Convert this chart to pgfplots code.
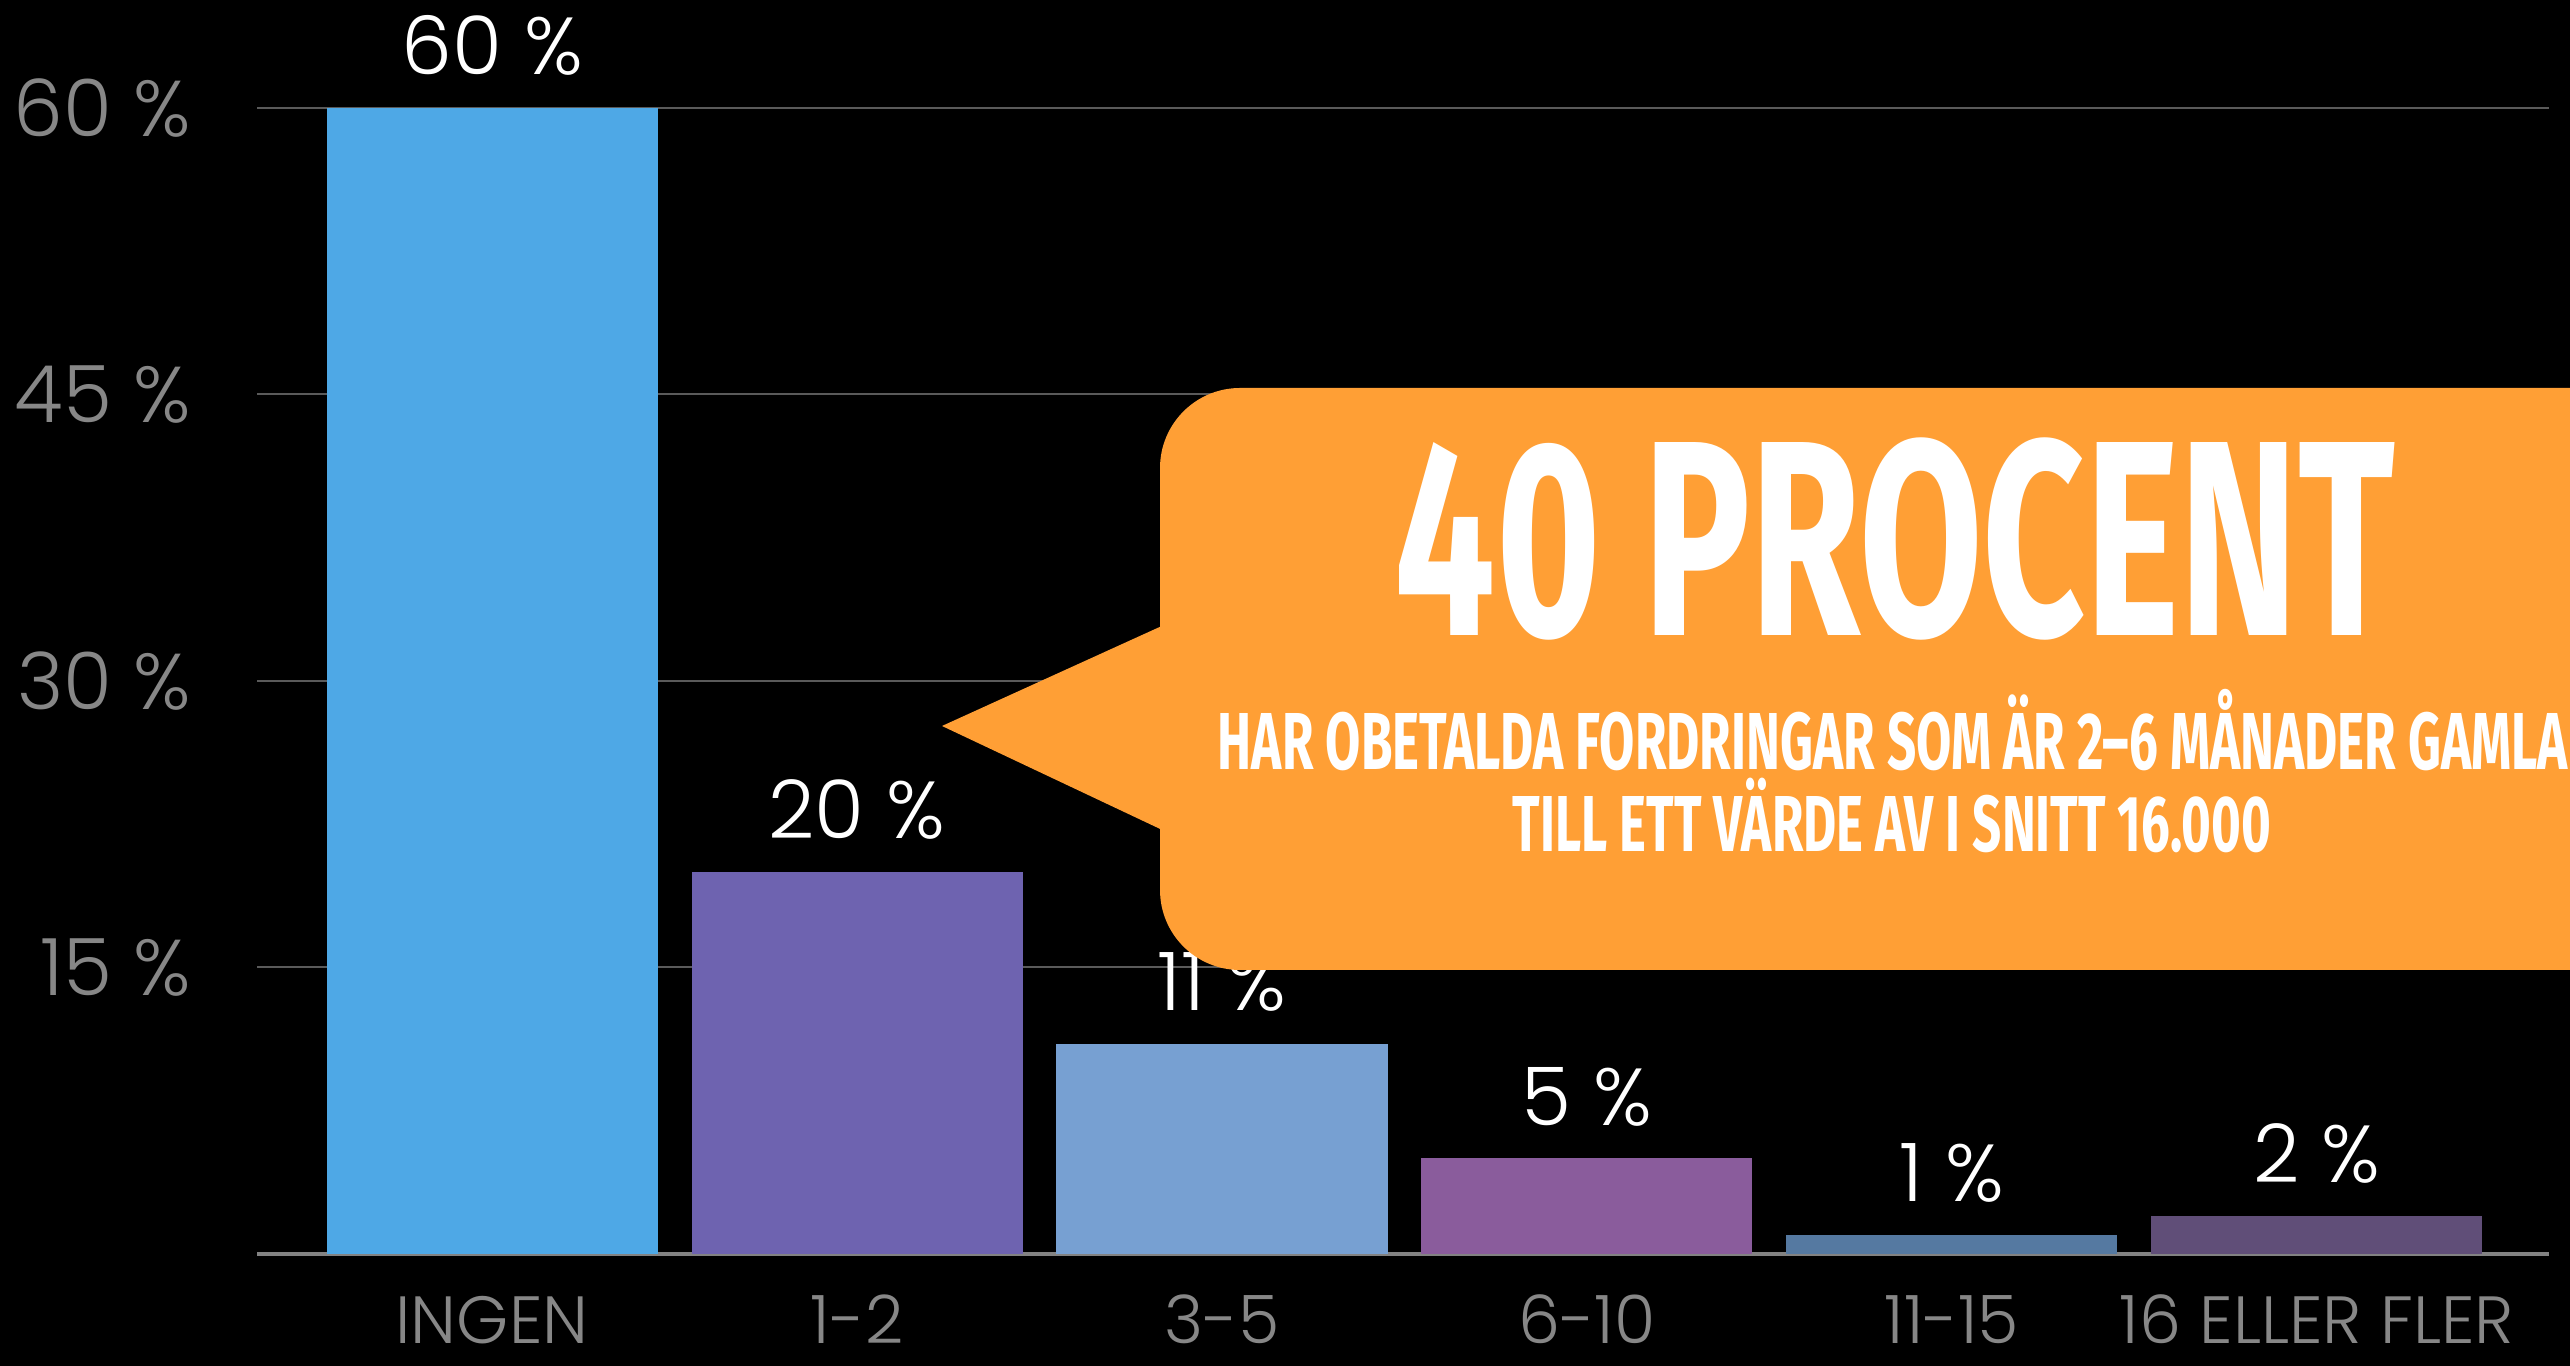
\documentclass[border=0pt]{standalone}
\usepackage{fontspec}
\setmainfont{Poppins}[UprightFont=* Light]
\newfontfamily\calloutfont{Fira Sans}
\usepackage{pgfplots}
\pgfplotsset{compat=1.18}
\definecolor{cIngen}{RGB}{78,168,230}
\definecolor{cA}{RGB}{110,99,176}
\definecolor{cB}{RGB}{119,160,210}
\definecolor{cC}{RGB}{138,92,156}
\definecolor{cD}{RGB}{85,121,161}
\definecolor{cE}{RGB}{96,78,120}
\definecolor{gridgray}{RGB}{90,90,90}
\definecolor{basegray}{RGB}{130,130,130}
\definecolor{labelgray}{RGB}{135,135,135}
\definecolor{calloutorange}{RGB}{255,159,53}
\begin{document}
\begin{tikzpicture}
\path[use as bounding box, clip] (0,0) rectangle (25.7,13.66);
\fill[black] (0,0) rectangle (25.7,13.66);
\begin{axis}[
  at={(2.57cm,1.12cm)}, anchor=south west,
  scale only axis, width=22.92cm, height=11.46cm,
  xmin=-0.644, xmax=5.636, ymin=0, ymax=60,
  ybar, bar width=3.31cm, bar shift=0pt,
  axis line style={draw=none},
  xtick={0,1,2,3,4,5},
  xticklabels={INGEN,1-2,3-5,6-10,11-15,16 ELLER FLER},
  ytick={15,30,45,60},
  yticklabels={15 \%,30 \%,45 \%,60 \%},
  major tick length=0pt,
  ymajorgrids,
  grid style={draw=gridgray, line width=0.02cm},
  extra y ticks={0}, extra y tick labels={},
  extra y tick style={grid style={draw=basegray, line width=0.035cm}},
  yticklabel style={anchor=east, inner sep=0pt, xshift=-0.65cm, text=labelgray, font=\fontsize{22.5}{27}\selectfont},
  xticklabel style={anchor=base, inner sep=0pt, yshift=-0.90cm, text=labelgray, font=\fontsize{19}{23}\selectfont},
  nodes near coords={\pgfmathprintnumber[assume math mode=true]{\pgfplotspointmeta} \%},
  every node near coord/.append style={anchor=base, yshift=0.33cm, text=white, font=\fontsize{23}{27}\selectfont, inner sep=0pt},
  clip=false,
]
\addplot[fill=cIngen, draw=none] coordinates {(0,60)};
\addplot[fill=cA, draw=none] coordinates {(1,20)};
\addplot[fill=cB, draw=none] coordinates {(2,11)};
\addplot[fill=cC, draw=none] coordinates {(3,5)};
\addplot[fill=cD, draw=none] coordinates {(4,1)};
\addplot[fill=cE, draw=none] coordinates {(5,2)};
\end{axis}
\fill[calloutorange, rounded corners=0.8cm] (11.60,3.96) rectangle (26.6,9.78);
\fill[calloutorange] (9.42,6.40) -- (11.75,7.46) -- (11.75,5.30) -- cycle;
\node[anchor=base, inner sep=0pt, text=white] at (18.95,7.30)
  {\resizebox{10.0cm}{1.93cm}{\calloutfont\bfseries\smash{40 PROCENT}\vphantom{H}}};
\node[anchor=base, inner sep=0pt, text=white] at (18.93,5.96)
  {\resizebox{13.50cm}{0.56cm}{\calloutfont\bfseries\smash{HAR OBETALDA FORDRINGAR SOM ÄR 2–6 MÅNADER GAMLA}\vphantom{H}}};
\node[anchor=base, inner sep=0pt, text=white] at (18.92,5.14)
  {\resizebox{7.58cm}{0.55cm}{\calloutfont\bfseries\smash{TILL ETT VÄRDE AV I SNITT 16.000}\vphantom{H}}};
\end{tikzpicture}
\end{document}
